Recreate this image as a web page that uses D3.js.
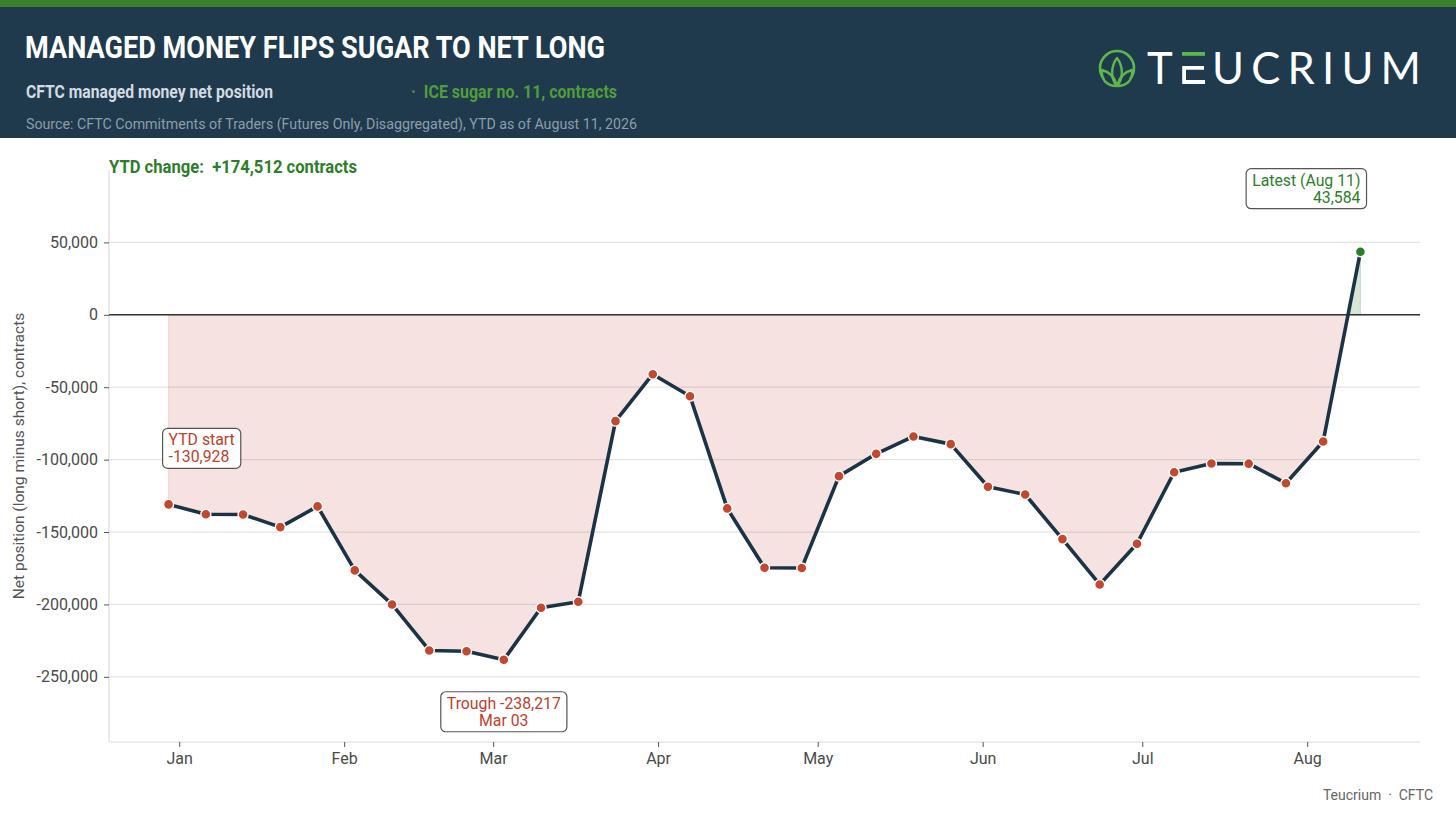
<!DOCTYPE html>
<html>
<head>
<meta charset="utf-8">
<script src="https://cdn.jsdelivr.net/npm/d3@7"></script>
<style>
  html, body { margin: 0; padding: 0; background: #fff; }
  svg { display: block; font-family: Roboto, "Noto Sans", sans-serif; }
  svg text { white-space: pre; }
</style>
</head>
<body>
<svg id="chart" width="1456" height="815"></svg>
<script>
// weekly report dates (Tuesdays), YTD
const reportDates = [
  "2025-12-30", "2026-01-06", "2026-01-13", "2026-01-20", "2026-01-27",
  "2026-02-03", "2026-02-10", "2026-02-17", "2026-02-24",
  "2026-03-03", "2026-03-10", "2026-03-17", "2026-03-24", "2026-03-31",
  "2026-04-07", "2026-04-14", "2026-04-21", "2026-04-28",
  "2026-05-05", "2026-05-12", "2026-05-19", "2026-05-26",
  "2026-06-02", "2026-06-09", "2026-06-16", "2026-06-23", "2026-06-30",
  "2026-07-07", "2026-07-14", "2026-07-21", "2026-07-28",
  "2026-08-04", "2026-08-11"
];
// managed money net position, contracts
const netPosition = [
  -130928, -137700, -137900, -146600, -132300,
  -176500, -200000, -231800, -232300,
  -238217, -202300, -198100, -73400, -41000,
  -56200, -133700, -174700, -174800,
  -111400, -96000, -84000, -89300,
  -118700, -124100, -154900, -186200, -158100,
  -108700, -102700, -102800, -116300,
  -87500, 43584
];
const yTicks = [-250000, -200000, -150000, -100000, -50000, 0, 50000];

const parse = d3.timeParse("%Y-%m-%d");
const data = reportDates.map((d, i) => ({ date: parse(d), value: netPosition[i] }));

const svg = d3.select("#chart");
const W = 1456, H = 815;
const m = { left: 109, right: 1420, top: 170, bottom: 742 };

// ---- header
svg.append("rect").attr("x", 0).attr("y", 0).attr("width", W).attr("height", 138).attr("fill", "#1f3a4d");
svg.append("rect").attr("x", 0).attr("y", 0).attr("width", W).attr("height", 7).attr("fill", "#3c7f2f");

svg.append("text").attr("x", 25).attr("y", 58)
  .attr("fill", "#fff").attr("font-size", 30.5).attr("font-weight", 700)
  .attr("textLength", 580).attr("lengthAdjust", "spacingAndGlyphs")
  .text("MANAGED MONEY FLIPS SUGAR TO NET LONG");

svg.append("text").attr("x", 26).attr("y", 97.5)
  .attr("fill", "#d3dbe1").attr("font-size", 17.5).attr("font-weight", 700)
  .attr("textLength", 247).attr("lengthAdjust", "spacingAndGlyphs")
  .text("CFTC managed money net position");

svg.append("text").attr("x", 411).attr("y", 97.5)
  .attr("fill", "#4f9d3c").attr("font-size", 17.5).attr("font-weight", 700)
  .attr("textLength", 206).attr("lengthAdjust", "spacingAndGlyphs")
  .text("·  ICE sugar no. 11, contracts");

svg.append("text").attr("x", 26).attr("y", 129)
  .attr("fill", "#8d9daa").attr("font-size", 14.5)
  .attr("textLength", 611).attr("lengthAdjust", "spacingAndGlyphs")
  .text("Source: CFTC Commitments of Traders (Futures Only, Disaggregated), YTD as of August 11, 2026");

// logo
const logo = svg.append("g");
logo.append("path")
  .attr("d", "M1104 79 A17 17 0 1 1 1130 79")
  .attr("fill", "none").attr("stroke", "#5cb84a").attr("stroke-width", 2.6);
const leaves = [
  "M1117 86 C1110 78 1111 66 1117 58 C1123 66 1124 78 1117 86",
  "M1117 86 C1106 86 1101 79 1102 70 C1110 72 1115 78 1117 86",
  "M1117 86 C1128 86 1133 79 1132 70 C1124 72 1119 78 1117 86"
];
logo.selectAll("path.leaf").data(leaves).join("path")
  .attr("class", "leaf").attr("d", d => d)
  .attr("fill", "none").attr("stroke", "#5cb84a").attr("stroke-width", 2.4)
  .attr("stroke-linejoin", "round");
logo.append("text").attr("x", 1147).attr("y", 84)
  .attr("fill", "#fff").attr("font-family", "Lato, 'Open Sans', sans-serif")
  .attr("font-size", 43.5).attr("font-weight", 400)
  .text("T");
logo.append("rect").attr("x", 1182).attr("y", 52).attr("width", 23).attr("height", 3.8).attr("fill", "#5cb84a");
logo.append("path").attr("d", "M1204 67.8 H1184.1 V82 H1205")
  .attr("fill", "none").attr("stroke", "#fff").attr("stroke-width", 3.8);
logo.append("text").attr("x", 1212).attr("y", 84)
  .attr("fill", "#fff").attr("font-family", "Lato, 'Open Sans', sans-serif")
  .attr("font-size", 43.5).attr("font-weight", 400)
  .attr("textLength", 209).attr("lengthAdjust", "spacing")
  .text("UCRIUM");

// ---- scales
const t0 = data[0].date, t1 = data[data.length - 1].date;
const pad = (t1 - t0) * 0.05;
const x = d3.scaleTime()
  .domain([new Date(+t0 - pad), new Date(+t1 + pad)])
  .range([m.left, m.right]);
const y = d3.scaleLinear().domain([-295000, 100000]).range([m.bottom, m.top]);

// ---- grid
svg.append("g").selectAll("line").data(yTicks).join("line")
  .attr("x1", m.left).attr("x2", m.right)
  .attr("y1", d => y(d)).attr("y2", d => y(d))
  .attr("stroke", "#e4e4e4").attr("stroke-width", 1.2);

// ---- area fills
const defs = svg.append("defs");
defs.append("clipPath").attr("id", "clipNeg").append("rect")
  .attr("x", m.left).attr("y", y(0)).attr("width", m.right - m.left).attr("height", m.bottom - y(0));
defs.append("clipPath").attr("id", "clipPos").append("rect")
  .attr("x", m.left).attr("y", m.top).attr("width", m.right - m.left).attr("height", y(0) - m.top);

const area = d3.area().x(d => x(d.date)).y0(y(0)).y1(d => y(d.value));
svg.append("path").datum(data).attr("d", area).attr("clip-path", "url(#clipNeg)")
  .attr("fill", "rgba(192,57,43,0.14)").attr("stroke", "rgba(192,57,43,0.15)").attr("stroke-width", 1);
svg.append("path").datum(data).attr("d", area).attr("clip-path", "url(#clipPos)")
  .attr("fill", "rgba(46,125,50,0.2)").attr("stroke", "rgba(46,125,50,0.2)").attr("stroke-width", 1);

// ---- axes frame
svg.append("line").attr("x1", m.left).attr("x2", m.left).attr("y1", m.top).attr("y2", m.bottom)
  .attr("stroke", "#dcdcdc").attr("stroke-width", 1.2);
svg.append("line").attr("x1", m.left).attr("x2", m.right).attr("y1", m.bottom).attr("y2", m.bottom)
  .attr("stroke", "#dcdcdc").attr("stroke-width", 1.2);
svg.append("line").attr("x1", m.left).attr("x2", m.right).attr("y1", y(0)).attr("y2", y(0))
  .attr("stroke", "#333").attr("stroke-width", 1.4);

const fmt = d => d3.format(",")(d).replace("\u2212", "-");
const yAxis = svg.append("g").attr("transform", `translate(${m.left},0)`)
  .call(d3.axisLeft(y).tickValues(yTicks).tickFormat(fmt).tickSize(5).tickPadding(6));
yAxis.select(".domain").remove();
yAxis.selectAll("line").attr("stroke", "#555");
yAxis.selectAll("text").attr("fill", "#4a4a4a").attr("font-size", 16).attr("font-family", "Roboto");

const xAxis = svg.append("g").attr("transform", `translate(0,${m.bottom})`)
  .call(d3.axisBottom(x).ticks(d3.timeMonth.every(1)).tickFormat(d3.timeFormat("%b")).tickSize(5).tickPadding(6));
xAxis.select(".domain").remove();
xAxis.selectAll("line").attr("stroke", "#555");
xAxis.selectAll("text").attr("fill", "#4a4a4a").attr("font-size", 16).attr("font-family", "Roboto");

svg.append("text")
  .attr("transform", `translate(24,${(m.top + m.bottom) / 2}) rotate(-90)`)
  .attr("text-anchor", "middle").attr("fill", "#555").attr("font-size", 15.5)
  .text("Net position (long minus short), contracts");

// ---- line + points
const line = d3.line().x(d => x(d.date)).y(d => y(d.value));
svg.append("path").datum(data).attr("d", line)
  .attr("fill", "none").attr("stroke", "#1b3345").attr("stroke-width", 3.6)
  .attr("stroke-linejoin", "round");

svg.append("g").selectAll("circle").data(data).join("circle")
  .attr("cx", d => x(d.date)).attr("cy", d => y(d.value)).attr("r", 5)
  .attr("fill", (d, i) => i === data.length - 1 ? "#2e7d2a" : "#c2482f")
  .attr("stroke", "#fff").attr("stroke-width", 1.4);

// ---- annotations
function note(lines, px, py, anchor, color) {
  const g = svg.append("g");
  const t = g.append("text").attr("fill", color).attr("font-size", 15.8).attr("text-anchor", anchor);
  lines.forEach((s, i) => t.append("tspan").attr("x", px).attr("y", py + i * 17).text(s));
  const b = t.node().getBBox();
  g.insert("rect", "text")
    .attr("x", b.x - 6).attr("y", b.y - 2).attr("width", b.width + 12).attr("height", b.height + 4)
    .attr("rx", 5).attr("fill", "#fff").attr("stroke", "#555").attr("stroke-width", 1.2);
}
const first = data[0], last = data[data.length - 1];
const trough = data.reduce((a, b) => b.value < a.value ? b : a);
const dfmt = d3.timeFormat("%b %d");
note(["YTD start", fmt(first.value)], x(first.date), y(first.value) - 59, "start", "#c0402b");
note(["Trough " + fmt(trough.value), dfmt(trough.date)], x(trough.date), y(trough.value) + 49, "middle", "#c0402b");
note(["Latest (" + d3.timeFormat("%b %-d")(last.date) + ")", fmt(last.value)], x(last.date), y(last.value) - 66, "end", "#2e7d2a");

svg.append("text").attr("x", 109).attr("y", 173)
  .attr("fill", "#2e7d2a").attr("font-size", 18.5).attr("font-weight", 700)
  .attr("textLength", 248).attr("lengthAdjust", "spacingAndGlyphs")
  .text("YTD change:  +" + d3.format(",")(last.value - first.value) + " contracts");

// footer
svg.append("text").attr("x", 1433).attr("y", 800).attr("text-anchor", "end")
  .attr("fill", "#666").attr("font-size", 14)
  .text("Teucrium  ·  CFTC");
</script>
</body>
</html>
